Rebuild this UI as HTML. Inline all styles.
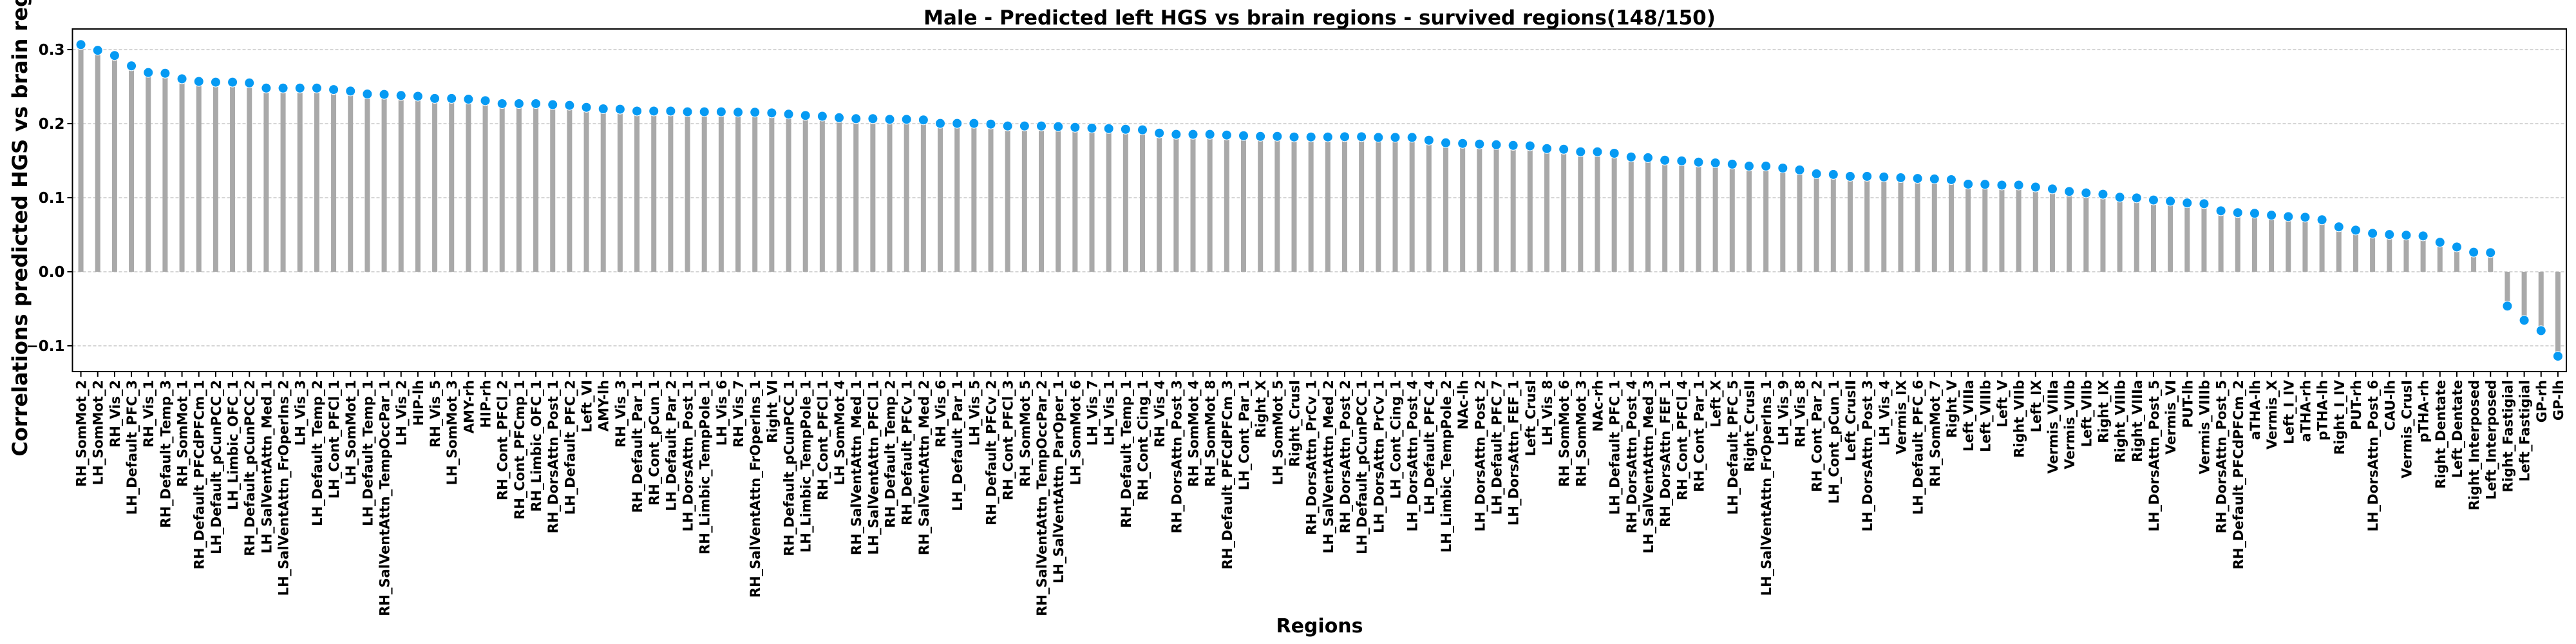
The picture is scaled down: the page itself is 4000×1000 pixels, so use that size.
<!DOCTYPE html>
<html><head><meta charset="utf-8"><style>
html,body{margin:0;padding:0;background:#fff;}
svg{display:block;font-family:"DejaVu Sans","Liberation Sans",sans-serif;font-weight:bold;}
</style></head><body>
<svg id="chart" width="4000" height="1000" viewBox="0 0 4000 1000" xmlns="http://www.w3.org/2000/svg">
<rect x="0" y="0" width="4000" height="1000" fill="#fff"/>
<text x="2049" y="38" text-anchor="middle" font-size="31">Male - Predicted left HGS vs brain regions - survived regions(148/150)</text>
<text x="2049" y="982" text-anchor="middle" font-size="30">Regions</text>
<text transform="translate(42,311) rotate(-90)" text-anchor="middle" font-size="32">Correlations predicted HGS vs brain regions</text>
<g id="grid"></g>
<g id="stems"></g>
<g id="dots"></g>
<g id="yticks"></g>
<g id="xticks"></g>
<rect x="112.5" y="45" width="3872.5" height="532" fill="none" stroke="#000" stroke-width="2"/>
</svg>
<script>
const regions = ["RH_SomMot_2","LH_SomMot_2","RH_Vis_2","LH_Default_PFC_3","RH_Vis_1","RH_Default_Temp_3","RH_SomMot_1","RH_Default_PFCdPFCm_1","LH_Default_pCunPCC_2","LH_Limbic_OFC_1","RH_Default_pCunPCC_2","LH_SalVentAttn_Med_1","LH_SalVentAttn_FrOperIns_2","LH_Vis_3","LH_Default_Temp_2","LH_Cont_PFCl_1","LH_SomMot_1","LH_Default_Temp_1","RH_SalVentAttn_TempOccPar_1","LH_Vis_2","HIP-lh","RH_Vis_5","LH_SomMot_3","AMY-rh","HIP-rh","RH_Cont_PFCl_2","RH_Cont_PFCmp_1","RH_Limbic_OFC_1","RH_DorsAttn_Post_1","LH_Default_PFC_2","Left_VI","AMY-lh","RH_Vis_3","RH_Default_Par_1","RH_Cont_pCun_1","LH_Default_Par_2","LH_DorsAttn_Post_1","RH_Limbic_TempPole_1","LH_Vis_6","RH_Vis_7","RH_SalVentAttn_FrOperIns_1","Right_VI","RH_Default_pCunPCC_1","LH_Limbic_TempPole_1","RH_Cont_PFCl_1","LH_SomMot_4","RH_SalVentAttn_Med_1","LH_SalVentAttn_PFCl_1","RH_Default_Temp_2","RH_Default_PFCv_1","RH_SalVentAttn_Med_2","RH_Vis_6","LH_Default_Par_1","LH_Vis_5","RH_Default_PFCv_2","RH_Cont_PFCl_3","RH_SomMot_5","RH_SalVentAttn_TempOccPar_2","LH_SalVentAttn_ParOper_1","LH_SomMot_6","LH_Vis_7","LH_Vis_1","RH_Default_Temp_1","RH_Cont_Cing_1","RH_Vis_4","RH_DorsAttn_Post_3","RH_SomMot_4","RH_SomMot_8","RH_Default_PFCdPFCm_3","LH_Cont_Par_1","Right_X","LH_SomMot_5","Right_CrusI","RH_DorsAttn_PrCv_1","LH_SalVentAttn_Med_2","RH_DorsAttn_Post_2","LH_Default_pCunPCC_1","LH_DorsAttn_PrCv_1","LH_Cont_Cing_1","LH_DorsAttn_Post_4","LH_Default_PFC_4","LH_Limbic_TempPole_2","NAc-lh","LH_DorsAttn_Post_2","LH_Default_PFC_7","LH_DorsAttn_FEF_1","Left_CrusI","LH_Vis_8","RH_SomMot_6","RH_SomMot_3","NAc-rh","LH_Default_PFC_1","RH_DorsAttn_Post_4","LH_SalVentAttn_Med_3","RH_DorsAttn_FEF_1","RH_Cont_PFCl_4","RH_Cont_Par_1","Left_X","LH_Default_PFC_5","Right_CrusII","LH_SalVentAttn_FrOperIns_1","LH_Vis_9","RH_Vis_8","RH_Cont_Par_2","LH_Cont_pCun_1","Left_CrusII","LH_DorsAttn_Post_3","LH_Vis_4","Vermis_IX","LH_Default_PFC_6","RH_SomMot_7","Right_V","Left_VIIIa","Left_VIIIb","Left_V","Right_VIIb","Left_IX","Vermis_VIIIa","Vermis_VIIb","Left_VIIb","Right_IX","Right_VIIIb","Right_VIIIa","LH_DorsAttn_Post_5","Vermis_VI","PUT-lh","Vermis_VIIIb","RH_DorsAttn_Post_5","RH_Default_PFCdPFCm_2","aTHA-lh","Vermis_X","Left_I_IV","aTHA-rh","pTHA-lh","Right_I_IV","PUT-rh","LH_DorsAttn_Post_6","CAU-lh","Vermis_CrusI","pTHA-rh","Right_Dentate","Left_Dentate","Right_Interposed","Left_Interposed","Right_Fastigial","Left_Fastigial","GP-rh","GP-lh"];
const correlations = [0.3067,0.299,0.292,0.278,0.269,0.268,0.2605,0.257,0.256,0.256,0.255,0.248,0.248,0.248,0.248,0.246,0.244,0.240,0.2395,0.238,0.237,0.234,0.234,0.233,0.231,0.227,0.227,0.227,0.2256,0.2247,0.222,0.220,0.2195,0.217,0.217,0.217,0.216,0.216,0.216,0.2154,0.2154,0.2145,0.2128,0.211,0.210,0.208,0.2067,0.2067,0.2058,0.2058,0.205,0.2003,0.2003,0.2003,0.1994,0.1968,0.1968,0.1968,0.196,0.195,0.194,0.1933,0.1924,0.1916,0.1872,0.1855,0.1855,0.1855,0.1846,0.1837,0.1828,0.1828,0.182,0.182,0.182,0.1823,0.1823,0.1814,0.1814,0.1814,0.1776,0.1741,0.1733,0.1724,0.1715,0.1706,0.170,0.1663,0.1654,0.162,0.162,0.160,0.155,0.154,0.1506,0.1497,0.148,0.147,0.1453,0.1427,0.1427,0.140,0.1375,0.1323,0.1314,0.1288,0.1288,0.128,0.127,0.126,0.1253,0.1244,0.1183,0.118,0.117,0.117,0.1143,0.1118,0.1084,0.1065,0.1047,0.1006,0.0997,0.0969,0.0953,0.0929,0.0919,0.0823,0.0798,0.0789,0.0764,0.0745,0.0736,0.0702,0.0606,0.0562,0.0519,0.0503,0.0494,0.0484,0.0398,0.0335,0.0264,0.0258,-0.0463,-0.0655,-0.0795,-0.114];
const yTickValues = [-0.1, 0.0, 0.1, 0.2, 0.3];
const yTickLabels = ["\u22120.1","0.0","0.1","0.2","0.3"];

const NS = "http://www.w3.org/2000/svg";
const plotLeft = 112.5, plotRight = 3985, plotTop = 45, plotBottom = 577;
const slot = (plotRight - plotLeft) / regions.length;
function xPos(i){ return plotLeft + slot * (i + 0.5); }
function yPos(v){ return 422 - v * 1150; }
function mk(tag, attrs, parent){
  const e = document.createElementNS(NS, tag);
  for (const k in attrs) e.setAttribute(k, attrs[k]);
  parent.appendChild(e);
  return e;
}
const grid = document.getElementById('grid'), stems = document.getElementById('stems'),
      dots = document.getElementById('dots'), yt = document.getElementById('yticks'), xt = document.getElementById('xticks');

yTickValues.forEach((v, i) => {
  const y = yPos(v);
  const g = mk('line', {x1: plotLeft, x2: plotRight, y1: y, y2: y, stroke: '#c8c8c8', 'stroke-width': 1.5, 'stroke-dasharray': '5,3'}, grid);
  
  
  const t = mk('line', {x1: plotLeft - 8, x2: plotLeft, y1: y, y2: y, stroke: '#000', 'stroke-width': 2}, yt);
  
  
  const l = mk('text', {x: plotLeft - 12, y: y + 8, 'text-anchor': 'end', 'font-size': 23}, yt);
  l.textContent = yTickLabels[i];
  
  
});

regions.forEach((r, i) => {
  const x = xPos(i), v = correlations[i];
  const y0 = yPos(0), y1 = yPos(v);
  const s = mk('rect', {x: x - 4, y: Math.min(y0, y1), width: 8, height: Math.abs(y1 - y0), fill: '#a9a9a9'}, stems);
  
  
  const d = mk('circle', {cx: x, cy: y1, r: 7.5, fill: '#069af3', stroke: '#fff', 'stroke-width': 1}, dots);
  
  
  const tk = mk('line', {x1: x, x2: x, y1: plotBottom, y2: plotBottom + 8, stroke: '#000', 'stroke-width': 2}, xt);
  
  
  const lb = mk('text', {transform: 'translate(' + (x + 8) + ',' + (plotBottom + 13) + ') rotate(-90)', 'text-anchor': 'end', 'font-size': 21}, xt);
  lb.textContent = r;
  
  
});
</script>
</body></html>
